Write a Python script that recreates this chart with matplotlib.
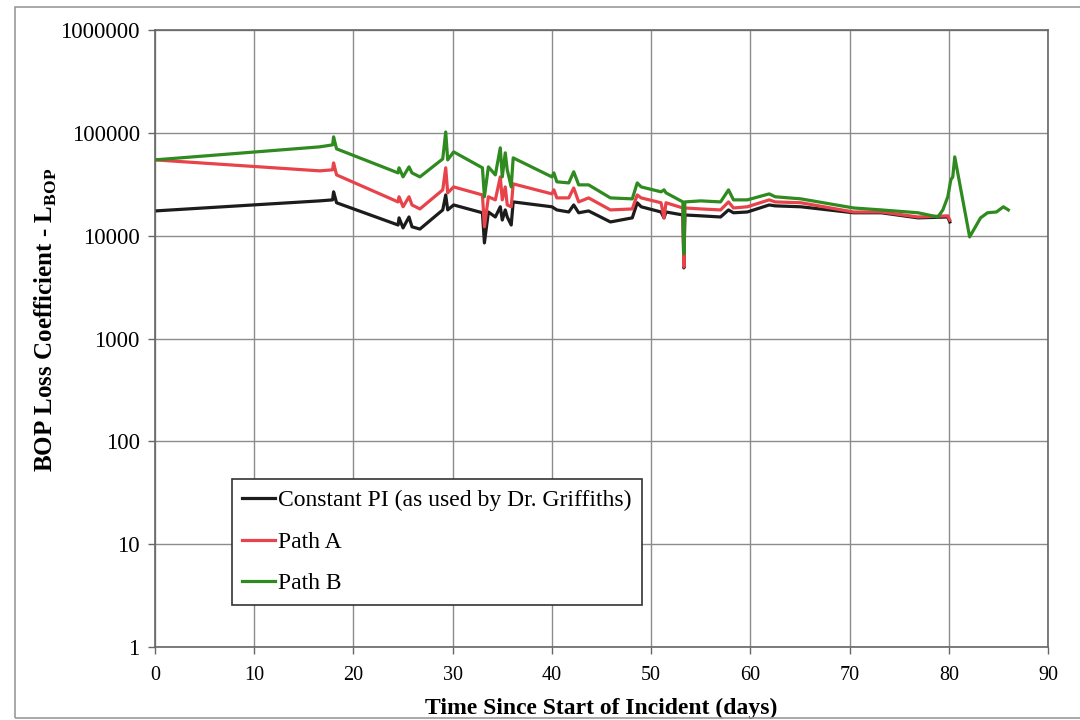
import matplotlib
matplotlib.use("Agg")
import matplotlib.pyplot as plt
from matplotlib.patches import Rectangle

plt.rcParams["font.family"] = ["Liberation Serif", "DejaVu Serif"]
plt.rcParams["mathtext.fontset"] = "custom"
plt.rcParams["mathtext.rm"] = "Liberation Serif"
plt.rcParams["mathtext.bf"] = "Liberation Serif:bold"

# constant PI series (days, loss coefficient)
pi_days = [0, 16.6, 17.9, 18.0, 18.3, 24.5, 24.6, 25.0, 25.6, 25.9, 26.7, 29.0, 29.3, 29.5,
           30.1, 33.0, 33.2, 33.6, 34.3, 34.8, 35.0, 35.3, 35.5, 35.9, 36.1, 40.0, 40.5,
           41.7, 42.2, 42.7, 43.7, 45.9, 48.1, 48.6, 49.0, 51.0, 51.3, 51.5, 53.2, 53.3,
           53.4, 55.0, 57.0, 57.8, 58.3, 59.7, 61.9, 62.5, 65.1, 70.4, 73.2, 76.9, 79.9, 80.1]
pi_vals = [17400, 21800, 22300, 26700, 20900, 12700, 14900, 11900, 15200, 12200, 11600, 17800,
           24900, 17800, 19900, 16700, 8500, 17000, 15200, 19100, 14200, 17800, 15200, 12700,
           21300, 19100, 17800, 17000, 19900, 16700, 17400, 13600, 14900, 20900, 19100, 17000,
           14900, 17000, 15900, 4860, 15900, 15600, 15200, 17800, 16700, 17000, 19900, 19500,
           19100, 16700, 16700, 14900, 15200, 13600]

# path A
a_days = [0, 16.6, 17.9, 18.0, 18.3, 24.5, 24.6, 25.0, 25.6, 25.9, 26.7, 29.0, 29.3, 29.5,
          30.1, 33.0, 33.2, 33.6, 34.3, 34.8, 35.0, 35.3, 35.5, 35.9, 36.1, 40.0, 40.2, 40.5,
          41.7, 42.2, 42.7, 43.7, 45.9, 48.1, 48.6, 49.0, 51.0, 51.3, 51.5, 53.2, 53.3, 53.4,
          55.0, 57.0, 57.8, 58.3, 59.7, 61.9, 62.5, 65.1, 70.4, 73.2, 76.9, 79.9, 80.1]
a_vals = [54600, 42700, 43700, 51000, 39000, 21300, 23900, 19100, 23900, 19900, 18200, 27900,
          45700, 26100, 29800, 24900, 12200, 23900, 22300, 37300, 22300, 29800, 19900, 19100,
          31900, 25500, 27900, 23300, 23300, 29100, 21300, 23300, 17800, 18200, 24900, 23300,
          20900, 14900, 20900, 18600, 4970, 18600, 18200, 17800, 21300, 18600, 19100, 22300,
          21300, 20900, 17000, 17000, 15200, 15600, 14200]

# path B
b_days = [0, 16.6, 17.9, 18.0, 18.3, 24.5, 24.6, 25.0, 25.6, 25.9, 26.7, 29.0, 29.3, 29.5,
          30.1, 33.0, 33.2, 33.6, 34.3, 34.8, 35.0, 35.3, 35.5, 35.9, 36.1, 40.0, 40.2, 40.5,
          41.7, 42.2, 42.7, 43.7, 45.9, 48.1, 48.6, 49.0, 51.0, 51.3, 51.5, 53.2, 53.3, 53.4,
          55.0, 57.0, 57.8, 58.3, 59.7, 61.9, 62.5, 65.1, 70.4, 73.2, 76.9, 78.9, 79.4, 79.9,
          80.2, 80.4, 80.6, 82.1, 83.2, 83.9, 84.8, 85.5, 86.0]
b_vals = [54600, 73100, 76400, 91400, 69900, 40800, 45700, 37300, 46700, 40800, 37300, 55800,
          102000, 54600, 65300, 45700, 23900, 46700, 39000, 71500, 37300, 63900, 43700, 29800,
          57100, 37300, 40800, 33400, 32600, 41800, 31200, 31200, 23300, 22800, 32600, 29800,
          26700, 27900, 26100, 21300, 6650, 21300, 21800, 21300, 27900, 22300, 22300, 25500,
          23900, 22800, 18600, 17800, 16700, 15200, 17800, 23900, 34900, 37300, 58400, 9730,
          14900, 16700, 17000, 19100, 17800]

fig = plt.figure(figsize=(10.8, 7.2), dpi=100)
ax = fig.add_axes([0.1435, 0.1014, 0.8269, 0.8569])

# thin frame round the whole chart
fig.add_artist(Rectangle((0.014, 0.003), 1.0, 0.987, transform=fig.transFigure,
                         fill=False, edgecolor="#9a9a9a", linewidth=1.2))

ax.plot(pi_days, pi_vals, color="#1c1c1c", linewidth=2.3,
        label="Constant PI (as used by Dr. Griffiths)")
ax.plot(a_days, a_vals, color="#e8434a", linewidth=2.3, label="Path A")
ax.plot(b_days, b_vals, color="#2f8a1f", linewidth=2.3, label="Path B")

ax.set_yscale("log")
ax.set_ylim(1, 1000000)
ax.set_xlim(0, 90)
ax.set_xticks(range(0, 91, 10))
ax.set_yticks([1, 10, 100, 1000, 10000, 100000, 1000000])
ax.set_yticklabels(["1", "10", "100", "1000", "10000", "100000", "1000000"])
ax.minorticks_off()

ax.grid(True, color="#8c8c8c", linewidth=1.0)
ax.set_axisbelow(True)
for side in ax.spines.values():
    side.set_color("#666666")
    side.set_linewidth(1.2)

ax.tick_params(axis="both", which="major", length=5, width=1, color="#666666")
ax.tick_params(axis="y", labelsize=16.5, pad=6)
ax.tick_params(axis="x", labelsize=14.5, pad=9)

ax.set_xlabel("Time Since Start of Incident (days)", fontsize=17, fontweight="bold",
              labelpad=9)
ax.set_ylabel(r"BOP Loss Coefficient - L$_{\mathbf{BOP}}$", fontsize=18,
              fontweight="bold")
ax.yaxis.set_label_coords(-0.108, 0.53)

leg = ax.legend(loc="lower left", bbox_to_anchor=(0.086, 0.068), borderaxespad=0,
                fontsize=17, handlelength=1.4, handletextpad=0.1, labelspacing=0.85,
                fancybox=False, framealpha=1, edgecolor="#333333",
                borderpad=0.45)
leg.get_frame().set_linewidth(1.2)

plt.savefig("out.png", dpi=100)
